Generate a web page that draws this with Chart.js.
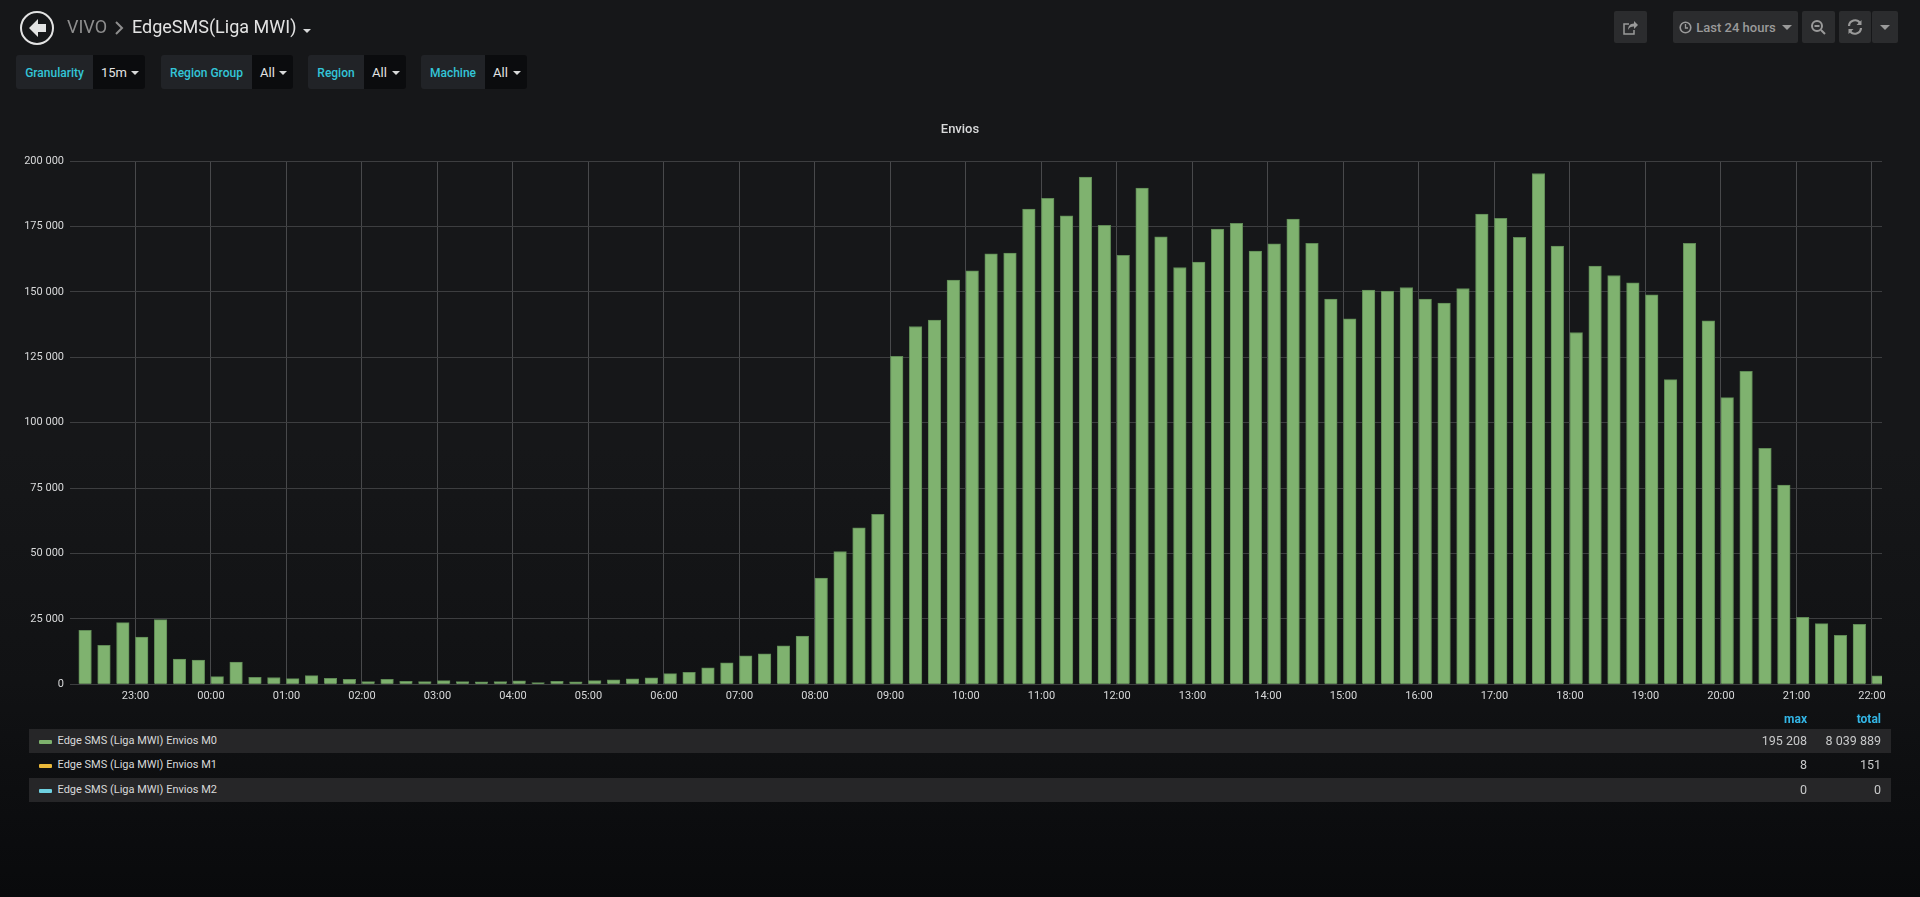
<!DOCTYPE html>
<html>
<head>
<meta charset="utf-8">
<title>EdgeSMS(Liga MWI)</title>
<script src="https://cdn.jsdelivr.net/npm/chart.js@4"></script>
<style>
  html, body { margin: 0; height: 100%; }
  body {
    width: 1920px; height: 897px; overflow: hidden; position: relative;
    font-family: Roboto, sans-serif; color: #d8d9da;
    background: linear-gradient(#161719 0, #161719 50%, #111214 76%, #090a0c 100%);
  }
  .abs { position: absolute; white-space: nowrap; }
  #chart { position: absolute; left: 0; top: 0; }
  .back { left: 20px; top: 11px; width: 30px; height: 30px; border: 2px solid #e3e3e3; border-radius: 50%; }
  .crumb { top: 14px; font-size: 18px; line-height: 26px; }
  .caret { width: 0; height: 0; border-left: 4px solid transparent; border-right: 4px solid transparent; border-top: 4px solid #d8d9da; }
  .panel-title { left: 0; width: 1920px; top: 121px; text-align: center; font-size: 13px; font-weight: 500; line-height: 16px; color: #d8d9da; }
  .filter { top: 55px; height: 34px; display: flex; border-radius: 3px; overflow: hidden; font-size: 13px; line-height: 36px; }
  .filter b { background: #212327; color: #33c5d8; font-weight: 500; font-size: 12px; text-align: center; }
  .filter span { background: #0b0c0e; color: #e3e3e3; position: relative; padding-left: 8px; box-sizing: border-box; font-size: 13px; }
  .filter .caret { position: absolute; right: 6px; top: 16px; }
  .btn { top: 11px; height: 32px; background: #2b2c2e; border-radius: 2px; display: flex; align-items: center; justify-content: center; color: #9a9a9a; font-size: 13px; font-weight: 500; }
  .btn .caret { border-top-color: #9a9a9a; border-left-width: 5px; border-right-width: 5px; border-top-width: 5px; }
  #legend { position: absolute; left: 29px; top: 729px; width: 1862px; font-size: 11px; color: #d8d9da; }
  .row { height: 24.4px; line-height: 24px; position: relative; }
  .row.odd { background: #262628; }
  .row i { position: absolute; left: 10px; top: 11px; width: 13px; height: 4px; border-radius: 1px; }
  .row em { position: absolute; left: 28.5px; font-style: normal; }
  .row u { position: absolute; text-decoration: none; text-align: right; font-size: 12.5px; color: #c8c9ca; }
  .row u.max, .hd.max { right: 84px; }
  .row u.total, .hd.total { right: 10px; }
  .hd { position: absolute; top: -17px; color: #33b5e5; font-weight: 700; font-size: 12px; }
</style>
</head>
<body>
<canvas id="chart" width="1920" height="720"></canvas>
<div class="abs panel-title">Envios</div>

<div class="abs back">
  <svg width="30" height="30" viewBox="0 0 30 30"><path d="M16 6 L7 15 L16 24 L16 19 L24 19 L24 11 L16 11 Z" fill="#e3e3e3"/></svg>
</div>
<div class="abs crumb" style="left:67px;color:#8e8e8e">VIVO</div>
<svg class="abs" style="left:114px;top:21px" width="10" height="14" viewBox="0 0 10 14"><path d="M2 1 L8 7 L2 13" fill="none" stroke="#8e8e8e" stroke-width="2"/></svg>
<div class="abs crumb" style="left:132px;color:#e3e3e3">EdgeSMS(Liga MWI)</div>
<div class="abs caret" style="left:303px;top:29px"></div>

<div id="filters"></div>

<div class="abs btn" style="left:1614px;width:33px">
  <svg width="17" height="17" viewBox="0 0 17 17"><path d="M12 2 L16 6 L12 10 V7.5 C9 7.5 7 8.5 6 11 C6 7 8 4.6 12 4.4 Z" fill="#9a9a9a"/><path d="M12 11 V15 H2 V5 H7" fill="none" stroke="#9a9a9a" stroke-width="1.5"/></svg>
</div>
<div class="abs btn" style="left:1673px;width:125px;gap:4px">
  <svg width="13" height="13" viewBox="0 0 13 13"><circle cx="6.5" cy="6.5" r="5.3" fill="none" stroke="#9a9a9a" stroke-width="1.6"/><path d="M6.5 3 V7 H9" fill="none" stroke="#9a9a9a" stroke-width="1.3"/></svg>
  <span>Last 24 hours</span><div class="caret" style="margin-left:2px"></div>
</div>
<div class="abs btn" style="left:1802px;width:33px">
  <svg width="17" height="17" viewBox="0 0 17 17"><circle cx="7" cy="7" r="5" fill="none" stroke="#9a9a9a" stroke-width="2"/><path d="M4.5 7 H9.5 M11 11 L15 15" stroke="#9a9a9a" stroke-width="2"/></svg>
</div>
<div class="abs btn" style="left:1839px;width:32px">
  <svg width="16" height="16" viewBox="0 0 16 16"><path d="M2 7 A6 6 0 0 1 13 4 M14 9 A6 6 0 0 1 3 12" fill="none" stroke="#9a9a9a" stroke-width="2.2"/><path d="M14.5 1 V6 H9.5 Z M1.5 15 V10 H6.5 Z" fill="#9a9a9a"/></svg>
</div>
<div class="abs btn" style="left:1872px;width:26px"><div class="caret"></div></div>

<div id="legend"></div>

<script>
// Envios M0, one bar every 15 minutes
const barTimes = [
  '22:15','22:30','22:45','23:00','23:15','23:30','23:45',
  '00:00','00:15','00:30','00:45','01:00','01:15','01:30','01:45',
  '02:00','02:15','02:30','02:45','03:00','03:15','03:30','03:45',
  '04:00','04:15','04:30','04:45','05:00','05:15','05:30','05:45',
  '06:00','06:15','06:30','06:45','07:00','07:15','07:30','07:45',
  '08:00','08:15','08:30','08:45','09:00','09:15','09:30','09:45',
  '10:00','10:15','10:30','10:45','11:00','11:15','11:30','11:45',
  '12:00','12:15','12:30','12:45','13:00','13:15','13:30','13:45',
  '14:00','14:15','14:30','14:45','15:00','15:15','15:30','15:45',
  '16:00','16:15','16:30','16:45','17:00','17:15','17:30','17:45',
  '18:00','18:15','18:30','18:45','19:00','19:15','19:30','19:45',
  '20:00','20:15','20:30','20:45','21:00','21:15','21:30','21:45','22:00'
];
const m0Values = [
  20640,14870,23590,18080,24740,9615,9230,
  2950,8460,2690,2600,2180,3330,2300,1920,
  1030,1920,1150,1030,1410,1030,900,1030,
  1280,640,1150,900,1410,1670,2050,2440,
  4100,4620,6280,8200,10900,11670,14740,18460,
  40560,50765,59820,64920,125380,136735,139160,154465,
  158036,164541,164796,181633,185714,179082,193878,175383,
  163903,189668,171046,159312,161352,173980,176148,165561,
  168368,177806,168495,147194,139669,150638,150255,151659,
  147194,145664,151276,179720,178061,170791,195208,167475,
  134439,159822,156250,153444,148852,116455,168495,138904,
  109567,119643,90180,76150,25640,23210,18750,22960,3190
];
// only the totals of these two can be read, the bars are too small to see
const m1Values = [];
const m2Values = [];

const hourTicks = [
  '23:00','00:00','01:00','02:00','03:00','04:00','05:00','06:00','07:00','08:00','09:00','10:00',
  '11:00','12:00','13:00','14:00','15:00','16:00','17:00','18:00','19:00','20:00','21:00','22:00'
];

const seriesNames = ['Edge SMS (Liga MWI) Envios M0', 'Edge SMS (Liga MWI) Envios M1', 'Edge SMS (Liga MWI) Envios M2'];
const seriesColors = ['#7eb26d', '#eab839', '#6ed0e0'];
const seriesMax = ['195 208', '8', '0'];
const seriesTotal = ['8 039 889', '151', '0'];

const filterLabels = ['Granularity', 'Region Group', 'Region', 'Machine'];
const filterValues = ['15m', 'All', 'All', 'All'];

function groupThousands(value) {
  return String(value).replace(/\B(?=(\d{3})+$)/g, ' ');
}

function minutesOf(time) {
  const [h, m] = time.split(':').map(Number);
  return h * 60 + m;
}

// time runs over midnight: minutes are counted from 00:00 of the first day
function barMinutes(time, index) {
  return index < 7 ? minutesOf(time) : minutesOf(time) + 1440;
}

function tickMinutes(time, index) {
  return index < 1 ? minutesOf(time) : minutesOf(time) + 1440;
}

function axisLabel(value) {
  const m = value % 1440;
  return String(Math.floor(m / 60)).padStart(2, '0') + ':' + String(m % 60).padStart(2, '0');
}

// flot draws the bar from its timestamp to the right, 10 of the 15 minutes wide
const barSpanMinutes = 10;
const m0Points = m0Values.map((v, i) => ({ x: barMinutes(barTimes[i], i) + barSpanMinutes / 2, y: v }));

const barStyle = { backgroundColor: '#7fb26f', borderColor: '#5f8a55', borderWidth: 1, barThickness: 12.6 };

new Chart(document.getElementById('chart'), {
  type: 'bar',
  data: {
    datasets: [
      { label: seriesNames[0], data: m0Points, ...barStyle },
      { label: seriesNames[1], data: m1Values, ...barStyle, backgroundColor: seriesColors[1] },
      { label: seriesNames[2], data: m2Values, ...barStyle, backgroundColor: seriesColors[2] }
    ]
  },
  options: {
    responsive: false,
    animation: false,
    devicePixelRatio: 1,
    grouped: false,
    layout: { padding: { left: 0, right: 38, top: 161, bottom: 0 } },
    plugins: {
      legend: { display: false },
      tooltip: { enabled: false }
    },
    scales: {
      x: {
        type: 'linear',
        min: 1328,
        max: 2768,
        offset: false,
        afterBuildTicks: (scale) => { scale.ticks = hourTicks.map((t, i) => ({ value: tickMinutes(t, i) })); },
        afterFit: (scale) => { scale.height = 35.7; },
        grid: { color: '#48494b', drawTicks: false, offset: false },
        border: { display: false },
        ticks: {
          autoSkip: false,
          maxRotation: 0,
          padding: 5,
          color: '#d8d9da',
          font: { family: 'Roboto', size: 11 },
          callback: axisLabel
        }
      },
      y: {
        min: 0,
        max: 200000,
        afterFit: (scale) => { scale.width = 70; },
        grid: { color: '#3d3e40', drawTicks: false },
        border: { display: false },
        ticks: {
          stepSize: 25000,
          padding: 6,
          color: '#d8d9da',
          font: { family: 'Roboto', size: 11 },
          callback: groupThousands
        }
      }
    }
  }
});

// the filter row
const filterBoxes = [
  { left: 16, label: 77, value: 52 },
  { left: 161, label: 91, value: 41 },
  { left: 308, label: 56, value: 42 },
  { left: 421, label: 64, value: 42 }
];
document.getElementById('filters').innerHTML = filterLabels.map((label, i) => {
  const box = filterBoxes[i];
  return `<div class="abs filter" style="left:${box.left}px"><b style="width:${box.label}px">${label}</b>` +
    `<span style="width:${box.value}px">${filterValues[i]}<div class="caret"></div></span></div>`;
}).join('');

// the legend table
document.getElementById('legend').innerHTML =
  '<div class="hd max">max</div><div class="hd total">total</div>' +
  seriesNames.map((name, i) =>
    `<div class="row ${i % 2 === 0 ? 'odd' : ''}"><i style="background:${seriesColors[i]}"></i><em>${name}</em>` +
    `<u class="max">${seriesMax[i]}</u><u class="total">${seriesTotal[i]}</u></div>`
  ).join('');
</script>
</body>
</html>
